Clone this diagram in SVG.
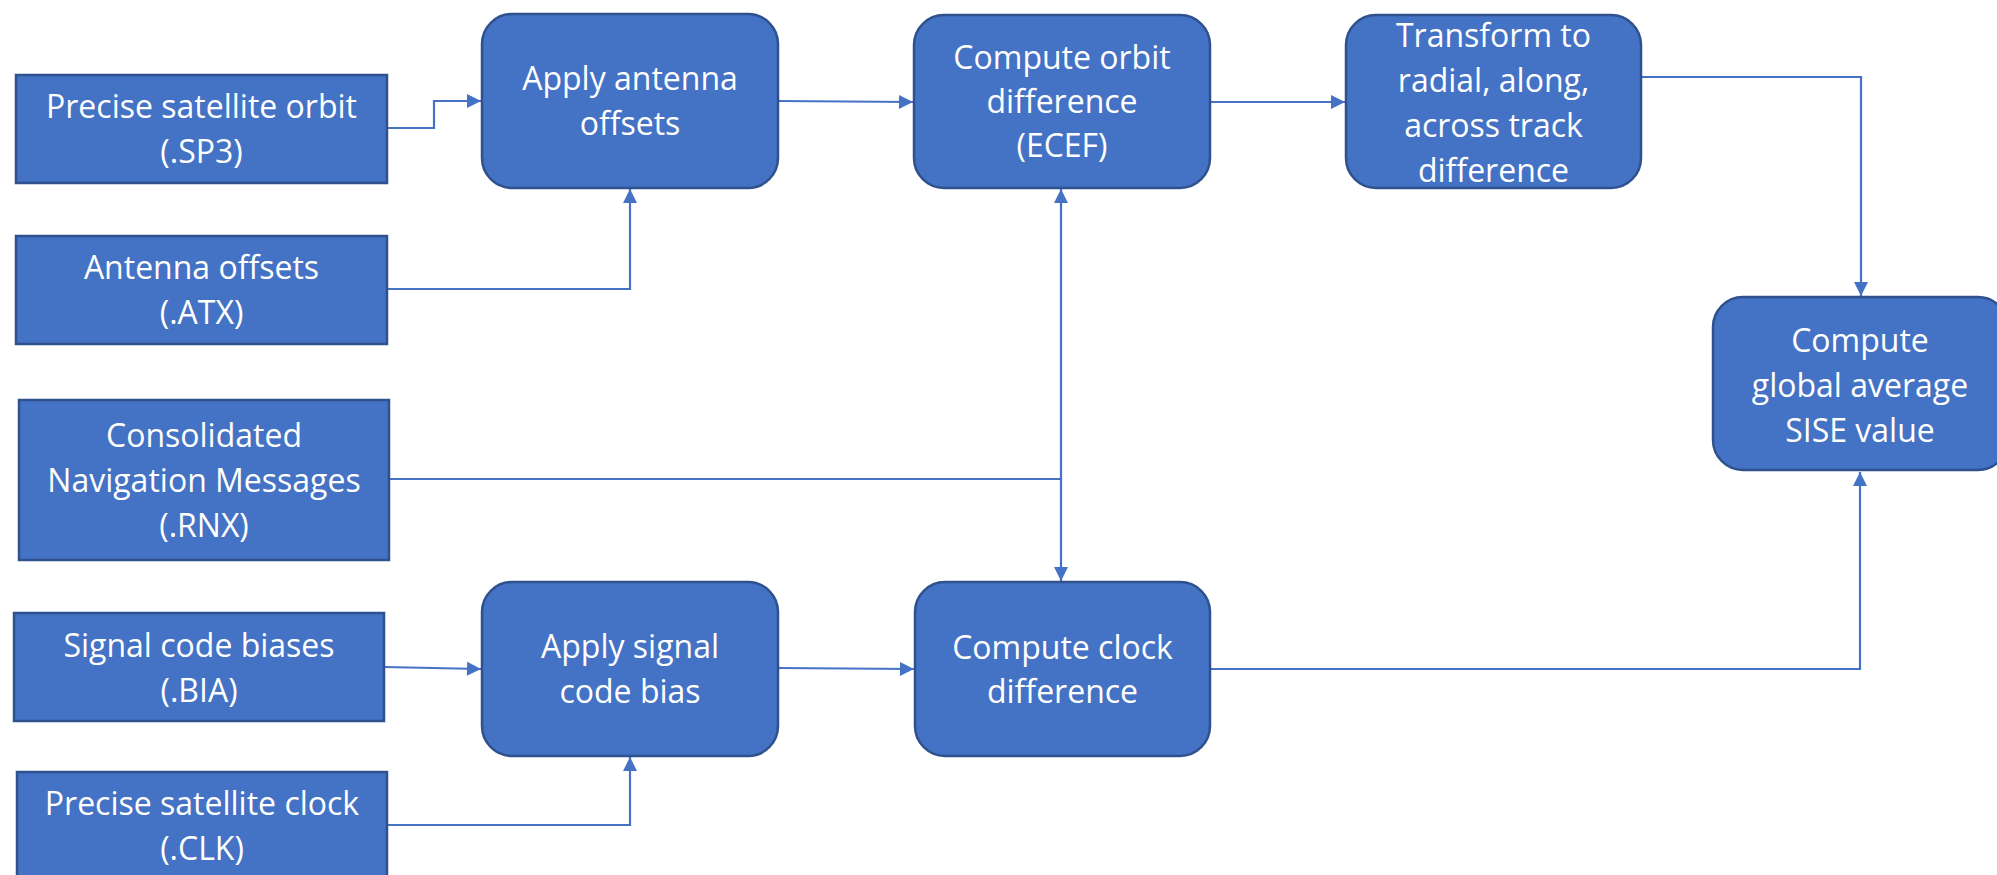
<svg xmlns="http://www.w3.org/2000/svg" width="1997" height="875" viewBox="0 0 1997 875">
<style>
.box{fill:#4472C4;stroke:#2F528F;stroke-width:2.5}
.t{fill:#ffffff;font-family:"Open Sans","Noto Sans",sans-serif;font-size:32px;text-anchor:middle}
.c{fill:none;stroke:#4472C4;stroke-width:2.2}
</style>
<defs>
<marker id="ah" markerUnits="userSpaceOnUse" markerWidth="16" markerHeight="16" viewBox="0 0 16 16" refX="15" refY="8" orient="auto">
<path d="M1,1 L15,8 L1,15 Z" fill="#4472C4"/>
</marker>
</defs>
<rect width="1997" height="875" fill="#ffffff"/>

<g id="connectors">
<path class="c" d="M387,128 H434 V101 H481" marker-end="url(#ah)"/>
<path class="c" d="M387,289 H630 V189" marker-end="url(#ah)"/>
<path class="c" d="M778,101 L913,102" marker-end="url(#ah)"/>
<path class="c" d="M1210,102 H1345" marker-end="url(#ah)"/>
<path class="c" d="M1641,77 H1861 V296" marker-end="url(#ah)"/>
<path class="c" d="M389,479 H1061 V189" marker-end="url(#ah)"/>
<path class="c" d="M389,479 H1061 V581" marker-end="url(#ah)"/>
<path class="c" d="M384,667 L481,669" marker-end="url(#ah)"/>
<path class="c" d="M387,825 H630 V757" marker-end="url(#ah)"/>
<path class="c" d="M778,668 L914,669" marker-end="url(#ah)"/>
<path class="c" d="M1210,669 H1860 V472" marker-end="url(#ah)"/>
</g>

<g id="orbit">
<rect class="box" x="16" y="75" width="371" height="108"/>
<text class="t" x="201.5" y="118">Precise satellite orbit</text>
<text class="t" x="201.5" y="163">(.SP3)</text>
</g>

<g id="atx">
<rect class="box" x="16" y="236" width="371" height="108"/>
<text class="t" x="201.5" y="279">Antenna offsets</text>
<text class="t" x="201.5" y="324">(.ATX)</text>
</g>

<g id="rnx">
<rect class="box" x="19" y="400" width="370" height="160"/>
<text class="t" x="204" y="447">Consolidated</text>
<text class="t" x="204" y="492">Navigation Messages</text>
<text class="t" x="204" y="537">(.RNX)</text>
</g>

<g id="bia">
<rect class="box" x="14" y="613" width="370" height="108"/>
<text class="t" x="199" y="657">Signal code biases</text>
<text class="t" x="199" y="702">(.BIA)</text>
</g>

<g id="clk">
<rect class="box" x="17" y="772" width="370" height="112"/>
<text class="t" x="202" y="815">Precise satellite clock</text>
<text class="t" x="202" y="860">(.CLK)</text>
</g>

<g id="apply-antenna">
<rect class="box" x="482" y="14" width="296" height="174" rx="30" ry="30"/>
<text class="t" x="630" y="90">Apply antenna</text>
<text class="t" x="630" y="135">offsets</text>
</g>

<g id="compute-orbit">
<rect class="box" x="914" y="15" width="296" height="173" rx="30" ry="30"/>
<text class="t" x="1062" y="69">Compute orbit</text>
<text class="t" x="1062" y="113">difference</text>
<text class="t" x="1062" y="157">(ECEF)</text>
</g>

<g id="transform">
<rect class="box" x="1346" y="15" width="295" height="173" rx="30" ry="30"/>
<text class="t" x="1493.5" y="47">Transform to</text>
<text class="t" x="1493.5" y="92">radial, along,</text>
<text class="t" x="1493.5" y="137">across track</text>
<text class="t" x="1493.5" y="182">difference</text>
</g>

<g id="sise">
<rect class="box" x="1713" y="297" width="295" height="173" rx="30" ry="30"/>
<text class="t" x="1860" y="352">Compute</text>
<text class="t" x="1860" y="397">global average</text>
<text class="t" x="1860" y="442">SISE value</text>
</g>

<g id="apply-signal">
<rect class="box" x="482" y="582" width="296" height="174" rx="30" ry="30"/>
<text class="t" x="630" y="658">Apply signal</text>
<text class="t" x="630" y="703">code bias</text>
</g>

<g id="compute-clock">
<rect class="box" x="915" y="582" width="295" height="174" rx="30" ry="30"/>
<text class="t" x="1062.5" y="659">Compute clock</text>
<text class="t" x="1062.5" y="703">difference</text>
</g>
</svg>
